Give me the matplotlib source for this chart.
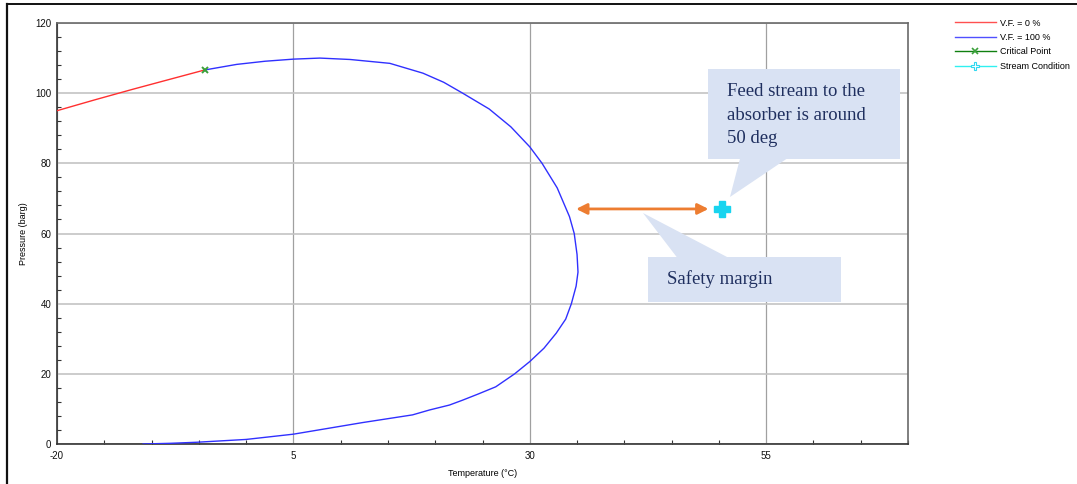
import matplotlib
matplotlib.use("Agg")
import matplotlib.pyplot as plt
from matplotlib.lines import Line2D
from matplotlib.patches import Rectangle, Polygon
from matplotlib.ticker import MultipleLocator

plt.rcParams["axes.unicode_minus"] = False

# Phase envelope: bubble line (V.F. = 0 %) up to the critical point
bubble_T = [-20.0, -16.0, -12.0, -8.0, -4.4]
bubble_P = [95.0, 98.1, 101.1, 104.0, 106.6]

# Dew line (V.F. = 100 %) from the critical point round the nose and down
dew_T = [-4.4, -1.0, 2.0, 5.0, 7.8, 11.0, 15.2, 18.7, 20.9, 22.9, 25.7, 28.0,
         30.0, 31.3, 32.9, 34.2, 34.7, 35.0, 35.1, 34.9, 34.4, 33.8, 32.8,
         31.5, 30.0, 28.4, 26.4, 24.5, 22.9, 21.5, 19.4, 17.6, 12.3, 5.0, 0.0,
         -5.2, -8.0, -10.9]
dew_P = [106.6, 108.2, 109.1, 109.7, 110.0, 109.6, 108.5, 105.7, 103.1, 100.0,
         95.5, 90.4, 84.7, 80.0, 73.0, 64.8, 60.0, 54.0, 49.0, 45.0, 40.0,
         35.6, 31.6, 27.3, 23.5, 20.0, 16.3, 14.2, 12.5, 11.1, 9.7, 8.3, 6.1,
         2.8, 1.3, 0.5, 0.2, 0.0]

critical_T, critical_P = -4.4, 106.6
stream_T, stream_P = 50.3, 67.0
margin_T = [34.9, 48.9]   # span of the safety-margin arrow

x_major = [-20, 5, 30, 55]
y_major = [0, 20, 40, 60, 80, 100, 120]

W, H = 1077, 484
fig = plt.figure(figsize=(W / 100, H / 100), dpi=100)
fig.patch.set_facecolor("white")
L, R, B, T = 57, 908, 444, 23
ax = fig.add_axes([L / W, 1 - B / H, (R - L) / W, (B - T) / H])

tick_font = "Liberation Sans"
ax.set_xlim(-20, 70)
ax.set_ylim(0, 120)
ax.set_xticks(x_major)
ax.set_yticks(y_major)
ax.xaxis.set_minor_locator(MultipleLocator(5))
ax.yaxis.set_minor_locator(MultipleLocator(4))
ax.tick_params(which="major", length=0, labelsize=7, colors="#111111")
ax.tick_params(axis="x", which="major", pad=5)
ax.tick_params(axis="y", which="major", pad=4)
ax.tick_params(which="minor", direction="in", length=3, width=0.8, color="#333333")
for lab in ax.get_xticklabels() + ax.get_yticklabels():
    lab.set_fontfamily(tick_font)

ax.grid(True, axis="x", which="major", color="#a0a0a0", lw=0.9)
ax.grid(True, axis="y", which="major", color="#c4c4c4", lw=1.2)
ax.set_axisbelow(True)
for side in ("left", "bottom"):
    ax.spines[side].set_color("#333333")
    ax.spines[side].set_linewidth(1.2)
for side in ("top", "right"):
    ax.spines[side].set_color("#6a6a6a")
    ax.spines[side].set_linewidth(1.2)

ax.set_xlabel("Temperature (°C)", fontsize=6.5, family=tick_font, labelpad=6)
ax.set_ylabel("Pressure (barg)", fontsize=6.5, family=tick_font, labelpad=5)

ax.plot(bubble_T, bubble_P, color="#ff3030", lw=1.0, zorder=3)
ax.plot(dew_T, dew_P, color="#3030ff", lw=1.0, zorder=3)
ax.plot([critical_T], [critical_P], marker="x", ms=4.5, mew=1.4,
        color="#3aa03a", ls="none", zorder=4)
ax.plot([stream_T], [stream_P], marker="P", ms=11, color="#18d4ef",
        mec="#18d4ef", ls="none", zorder=5)

# Safety margin arrow between the dew line and the stream condition
ax.annotate("", xy=(margin_T[0], stream_P), xytext=(margin_T[1], stream_P),
            arrowprops=dict(arrowstyle="<|-|>", color="#ed7d31", lw=2.0,
                            mutation_scale=16, shrinkA=0, shrinkB=0),
            zorder=5)

box_fc = "#d9e2f3"
text_c = "#1f2f5f"
serif = "Liberation Serif"

# Callout: feed stream
ax.add_patch(Rectangle((0.765, 0.677), 0.2256, 0.214, transform=ax.transAxes,
                       facecolor=box_fc, edgecolor="none", zorder=6))
ax.add_patch(Polygon([(0.8026, 0.678), (0.8578, 0.678), (0.7908, 0.5867)],
                     closed=True, transform=ax.transAxes,
                     facecolor=box_fc, edgecolor="none", zorder=6))
ax.text(0.7873, 0.857, "Feed stream to the\nabsorber is around\n50 deg",
        transform=ax.transAxes, ha="left", va="top", fontsize=13.5,
        family=serif, color=text_c, linespacing=1.5, zorder=7)

# Callout: safety margin
ax.add_patch(Rectangle((0.6945, 0.3373), 0.2268, 0.1069, transform=ax.transAxes,
                       facecolor=box_fc, edgecolor="none", zorder=6))
ax.add_patch(Polygon([(0.7286, 0.443), (0.7885, 0.443), (0.6886, 0.5487)],
                     closed=True, transform=ax.transAxes,
                     facecolor=box_fc, edgecolor="none", zorder=6))
ax.text(0.7168, 0.3919, "Safety margin", transform=ax.transAxes,
        ha="left", va="center", fontsize=13.5, family=serif, color=text_c,
        zorder=7)

# Legend
handles = [
    Line2D([], [], color="#ff5050", lw=1.0),
    Line2D([], [], color="#5050ff", lw=1.0),
    Line2D([], [], color="#108010", lw=1.0, marker="x", ms=4, mew=1.2,
           mec="#3aa03a"),
    Line2D([], [], color="#30f0f0", lw=1.0, marker="P", ms=6, mfc="white",
           mec="#30d8f0", mew=0.8),
]
labels = ["V.F. = 0 %", "V.F. = 100 %", "Critical Point", "Stream Condition"]
fig.legend(handles, labels, loc="upper left",
           bbox_to_anchor=(955 / W, 1 - 18.5 / H), frameon=False,
           prop={"family": tick_font, "size": 6.5},
           handlelength=4.5, handletextpad=0.45, labelspacing=0.6,
           borderpad=0, borderaxespad=0)

# Outer frame lines (top and left)
fig.add_artist(Line2D([7 / W, 7 / W], [0, 1 - 4 / H], color="#111111", lw=1.6,
                      transform=fig.transFigure))
fig.add_artist(Line2D([7 / W, 1], [1 - 4 / H, 1 - 4 / H], color="#111111", lw=1.4,
                      transform=fig.transFigure))

fig.savefig("out.png", dpi=100, facecolor="white")
